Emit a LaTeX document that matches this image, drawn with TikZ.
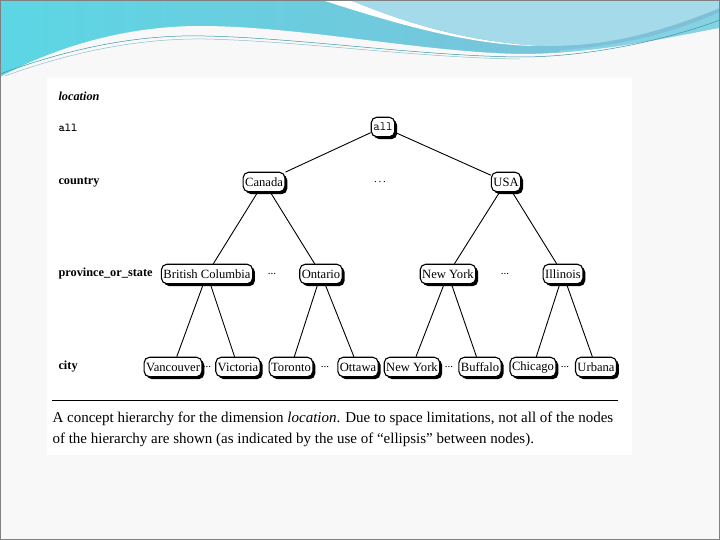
\documentclass[tikz,border=0pt]{standalone}
\usepackage{fontspec}
\setmainfont{Liberation Serif}
\usetikzlibrary{shadows}
\definecolor{slidebg}{RGB}{248,248,248}
\definecolor{bluea}{RGB}{92,214,228}
\definecolor{blueb}{RGB}{130,190,215}
\definecolor{bluelight}{RGB}{165,218,234}
\definecolor{bluemid}{RGB}{80,190,215}
\definecolor{teal1}{RGB}{60,150,170}
\tikzset{
  hnode/.style={draw, line width=1.1pt, rounded corners=5.5pt, fill=white,
    inner xsep=2pt, inner ysep=1.5pt, minimum height=19.5pt,
    font=\fontsize{12.6}{12.6}\selectfont,
    drop shadow={shadow xshift=2.4pt, shadow yshift=-2.4pt, opacity=1, fill=black}},
  lvl/.style={anchor=west, font=\fontsize{12.3}{12.3}\selectfont\bfseries},
  dots/.style={font=\fontsize{11}{11}\selectfont},
  edge/.style={line width=0.9pt},
  captext/.style={anchor=west, font=\fontsize{15}{15}\selectfont}
}
\begin{document}
\begin{tikzpicture}[x=1pt,y=-1pt]
\useasboundingbox (0,0) rectangle (720,540);
% slide background
\fill[slidebg] (0,0) rectangle (720,540);
% header
\shade[left color=bluea, right color=blueb] (0,0) rectangle (720,80);
\fill[bluelight] (349,0) -- (720,0) -- (720,8) .. controls (660,32) and (610,46) .. (548,46)
   .. controls (480,44) and (410,25) .. (349,0) -- cycle;
\fill[white] (322,0) -- (349,0) .. controls (410,25) and (470,42) .. (540,46)
   .. controls (470,46) and (390,22) .. (322,0) -- cycle;
\fill[bluemid!70] (560,50) .. controls (640,45) and (690,25) .. (720,12) -- (720,30) .. controls (680,40) and (620,52) .. (560,52) -- cycle;
\fill[slidebg] (0,77) .. controls (50,50) and (120,26) .. (200,26)
   .. controls (300,26) and (420,52) .. (520,54)
   .. controls (600,54) and (680,35) .. (720,28) -- (720,80) -- (0,80) -- cycle;
\draw[teal1, line width=0.5pt] (0,74) .. controls (60,52) and (130,34) .. (205,36)
   .. controls (300,38) and (420,56) .. (520,57) .. controls (600,57) and (680,35) .. (720,20);
\draw[teal1!60, line width=0.5pt] (5,76) .. controls (60,56) and (130,38) .. (205,39)
   .. controls (300,41) and (420,58) .. (520,59);
% slide border
\draw[gray, line width=0.8pt] (0.4,0.4) rectangle (719.6,539.6);
% figure area
\fill[white] (47,78) rectangle (632,455);

% level labels
\node[lvl, font=\fontsize{12.3}{12.3}\selectfont\bfseries\itshape] (lloc) at (55,96) {location};
\node[anchor=west, font=\fontsize{12}{12}\selectfont\ttfamily\bfseries] (lall) at (55,128) {all};
\node[lvl] (lcountry) at (55,182) {country};
\node[lvl] (lprov) at (55,274) {province\_or\_state};
\node[lvl] (lcity) at (55,367) {city};

% nodes
\node[hnode, font=\fontsize{12.6}{12.6}\selectfont\ttfamily] (all) at (383,127) {all};
\node[hnode] (canada) at (264,182) {Canada};
\node[hnode] (usa) at (506,182) {USA};
\node[dots] (d0) at (380,182) {.\,.\,.};
\node[hnode] (bc) at (207,274) {British Columbia};
\node[hnode] (ont) at (321,274) {Ontario};
\node[hnode] (nys) at (448,274) {New York};
\node[hnode] (ill) at (563,274) {Illinois};
\node[dots] (d1) at (272,274) {...};
\node[dots] (d2) at (505,274) {...};
\node[hnode] (van) at (173,367) {Vancouver};
\node[hnode] (vic) at (238,367) {Victoria};
\node[hnode] (tor) at (291,367) {Toronto};
\node[hnode] (ott) at (358,367) {Ottawa};
\node[hnode] (nyc) at (412,367) {New York};
\node[hnode] (buf) at (480,367) {Buffalo};
\node[hnode] (chi) at (533,367) {Chicago};
\node[hnode] (urb) at (596,367) {Urbana};
\node[dots] (d3) at (207,367) {...};
\node[dots] (d4) at (325,367) {...};
\node[dots] (d5) at (449,367) {...};
\node[dots] (d6) at (565,367) {...};

% edges
\draw[edge] (all) -- (canada);
\draw[edge] (all) -- (usa);
\draw[edge] (canada) -- (bc);
\draw[edge] (canada) -- (ont);
\draw[edge] (usa) -- (nys);
\draw[edge] (usa) -- (ill);
\draw[edge] (bc) -- (van);
\draw[edge] (bc) -- (vic);
\draw[edge] (ont) -- (tor);
\draw[edge] (ont) -- (ott);
\draw[edge] (nys) -- (nyc);
\draw[edge] (nys) -- (buf);
\draw[edge] (ill) -- (chi);
\draw[edge] (ill) -- (urb);

% rule and caption
\coordinate (r1) at (52,400);
\coordinate (r2) at (618,400);
\draw[line width=0.8pt] (r1) -- (r2);
\node[captext] (cap1) at (49,419) {A concept hierarchy for the dimension \textit{location}. Due to space limitations, not all of the nodes};
\node[captext] (cap2) at (49,440) {of the hierarchy are shown (as indicated by the use of “ellipsis” between nodes).};
\end{tikzpicture}
\end{document}
